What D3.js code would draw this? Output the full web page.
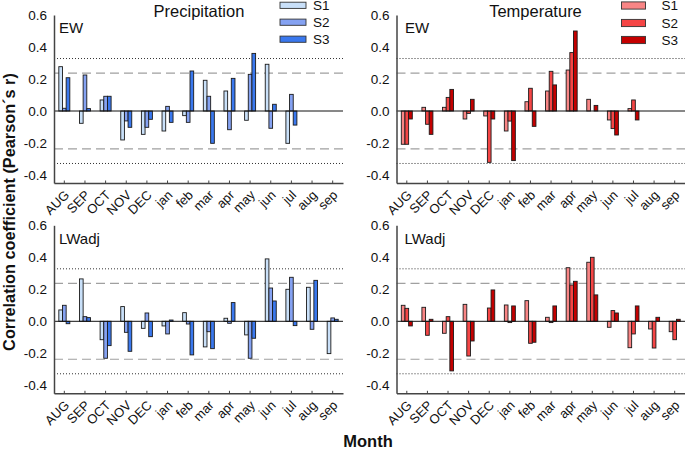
<!DOCTYPE html>
<html><head><meta charset="utf-8">
<script src="https://cdn.jsdelivr.net/npm/d3@7"></script>
<style>
html,body{margin:0;padding:0;background:#fff;}
svg{display:block;font-family:"Liberation Sans",Arial,sans-serif;}
</style>
</head><body>
<svg id="chart" width="685" height="450"></svg>
<script>
const months = ["AUG","SEP","OCT","NOV","DEC","jan","feb","mar","apr","may","jun","jul","aug","sep"];
const seriesNames = ["S1","S2","S3"];
const yTicks = [0.6,0.4,0.2,0.0,-0.2,-0.4];
const yTickLabels = ["0.6","0.4","0.2","0.0","-0.2","-0.4"];
const dashedLevel = 0.237;
const dottedLevel = 0.328;

const precipEW_S1 = [0.277,-0.077,0.069,-0.181,-0.146,-0.125,-0.029,0.192,0.125,-0.058,0.292,-0.202,null,null];
const precipEW_S2 = [0.017,0.225,0.092,-0.062,-0.102,0.029,-0.071,0.092,-0.117,0.229,-0.108,0.104,null,null];
const precipEW_S3 = [0.208,0.015,0.092,-0.102,-0.052,-0.071,0.25,-0.202,0.204,0.36,0.042,-0.088,null,null];

const tempEW_S1 = [-0.208,0.023,0.023,-0.05,-0.031,-0.125,0.058,0.125,0.256,0.073,-0.056,0.015,null,null];
const tempEW_S2 = [-0.208,-0.083,0.085,-0.015,-0.321,-0.063,0.142,0.248,0.365,0,-0.11,0.069,null,null];
const tempEW_S3 = [-0.05,-0.146,0.135,0.073,-0.05,-0.31,-0.096,0.163,0.5,0.035,-0.15,-0.056,null,null];

const precipLW_S1 = [0.071,0.265,-0.115,0.092,-0.044,-0.029,0.054,-0.16,0.019,-0.085,0.39,0.2,0.2125,-0.202];
const precipLW_S2 = [0.1,0.029,-0.231,-0.069,0.052,-0.079,-0.017,-0.065,-0.0125,-0.231,0.208,0.275,-0.05,0.021];
const precipLW_S3 = [-0.015,0.023,-0.152,-0.1875,-0.096,0.008,-0.21,-0.171,0.117,-0.106,0.127,-0.027,0.256,0.0125];

const tempLW_S1 = [0.1,0.0875,-0.075,0.106,0,0.102,0.129,0.025,0.335,0.369,-0.0375,-0.165,-0.048,-0.065];
const tempLW_S2 = [0.081,-0.0875,0.029,-0.217,0.083,-0.008,-0.1375,-0.008,0.227,0.4,0.067,-0.079,-0.167,-0.115];
const tempLW_S3 = [-0.029,0.0125,-0.31,-0.123,0.196,0.096,-0.131,0.096,0.25,0.165,0.052,0.096,0.025,0.0125];

const blueColors = ["#c9e0f9","#85a2f2","#3a78ee"];
const redColors = ["#f98585","#f54545","#c40000"];

const svg = d3.select("#chart");

const panels = [
  {label:"EW", series:[precipEW_S1,precipEW_S2,precipEW_S3], colors:blueColors, x0:54, x1:343, yTop:15, yBot:183, labelDx:5,
   title:"Precipitation", titleX:199, legend:{x:280,w:26,h:6.2,textX:313,ys:[5.3,22.2,39.2]}},
  {label:"EW", series:[tempEW_S1,tempEW_S2,tempEW_S3], colors:redColors, x0:396.5, x1:685, yTop:15, yBot:183, labelDx:8.5,
   title:"Temperature", titleX:535.5, legend:{x:621.5,w:24,h:7.2,textX:661.5,ys:[5.5,23,40]}},
  {label:"LWadj", series:[precipLW_S1,precipLW_S2,precipLW_S3], colors:blueColors, x0:54, x1:343, yTop:225.3, yBot:393.3, labelDx:5},
  {label:"LWadj", series:[tempLW_S1,tempLW_S2,tempLW_S3], colors:redColors, x0:396.5, x1:685, yTop:225.3, yBot:393.3, labelDx:8}
];

panels.forEach(p => {
  const g = svg.append("g");
  const x = d3.scaleBand().domain(months).range([p.x0, p.x1]).paddingInner(0).paddingOuter(0);
  const y = d3.scaleLinear().domain([-0.45, 0.6]).range([p.yBot, p.yTop]);
  const groupW = 11;
  const xs = d3.scaleBand().domain(seriesNames).range([0, groupW]);

  // reference lines
  [dashedLevel, -dashedLevel].forEach(v => {
    g.append("line").attr("x1", p.x0).attr("x2", p.x1).attr("y1", y(v)).attr("y2", y(v))
      .attr("stroke", "#a0a0a0").attr("stroke-width", 1.1).attr("stroke-dasharray", "9,5");
  });
  [dottedLevel, -dottedLevel].forEach(v => {
    g.append("line").attr("x1", p.x0).attr("x2", p.x1).attr("y1", y(v)).attr("y2", y(v))
      .attr("stroke", "#333").attr("stroke-width", 1).attr("stroke-dasharray", "1,2");
  });

  // bars
  p.series.forEach((vals, si) => {
    const data = months.map((m, i) => ({m, v: vals[i]})).filter(d => d.v !== null);
    g.selectAll(null).data(data).enter().append("rect")
      .attr("x", d => x(d.m) + x.bandwidth()/2 - groupW/2 + xs(seriesNames[si]))
      .attr("width", xs.bandwidth())
      .attr("y", d => y(Math.max(0, d.v)))
      .attr("height", d => Math.abs(y(d.v) - y(0)))
      .attr("fill", p.colors[si])
      .attr("stroke", "#1a1a1a").attr("stroke-width", 0.9);
  });

  // zero line
  g.append("line").attr("x1", p.x0).attr("x2", p.x1).attr("y1", y(0)).attr("y2", y(0))
    .attr("stroke", "#111").attr("stroke-width", 1);

  // y axis
  const yAxis = d3.axisLeft(y).tickValues(yTicks).tickFormat((d, i) => yTickLabels[i]).tickSize(0).tickPadding(7);
  const ya = g.append("g").attr("transform", `translate(${p.x0},0)`).call(yAxis);
  ya.select(".domain").attr("stroke", "#444").attr("stroke-width", 1.5);
  ya.selectAll("text").attr("font-size", 13.5).attr("fill", "#111").attr("font-family", "Liberation Sans, Arial, sans-serif");

  // x axis
  const xAxis = d3.axisBottom(x).tickSize(-2.5).tickPadding(5).tickSizeOuter(0);
  const xa = g.append("g").attr("transform", `translate(0,${p.yBot})`).call(xAxis);
  xa.select(".domain").attr("stroke", "#444").attr("stroke-width", 1.5);
  xa.selectAll(".tick line").attr("stroke", "#444");
  xa.selectAll("text").attr("font-size", 13).attr("fill", "#111")
    .attr("font-family", "Liberation Sans, Arial, sans-serif")
    .attr("text-anchor", "end").attr("dy", "0.35em")
    .attr("transform", "translate(-1,6) rotate(-45)");

  // panel label
  g.append("text").attr("x", p.x0 + p.labelDx).attr("y", p.yTop + 18.3).text(p.label)
    .attr("font-size", 15).attr("fill", "#111");

  if (p.title) {
    g.append("text").attr("x", p.titleX).attr("y", 17)
      .attr("text-anchor", "middle").attr("font-size", 16.5).attr("fill", "#111").text(p.title);
    seriesNames.forEach((s, si) => {
      const ly = p.legend.ys[si];
      g.append("rect").attr("x", p.legend.x).attr("y", ly - p.legend.h/2).attr("width", p.legend.w).attr("height", p.legend.h)
        .attr("fill", p.colors[si]).attr("stroke", "#333").attr("stroke-width", 0.9);
      g.append("text").attr("x", p.legend.textX).attr("y", ly + 4.7)
        .attr("font-size", 13.5).attr("fill", "#111").text(s);
    });
  }
});

svg.append("text").attr("transform", "translate(15,212) rotate(-90)")
  .attr("text-anchor", "middle").attr("font-size", 16.3).attr("font-weight", "bold").attr("fill", "#111")
  .text("Correlation coefficient (Pearson´s r)");
svg.append("text").attr("x", 368).attr("y", 447).attr("text-anchor", "middle")
  .attr("font-size", 16.5).attr("font-weight", "bold").attr("fill", "#111").text("Month");
</script>
</body></html>
